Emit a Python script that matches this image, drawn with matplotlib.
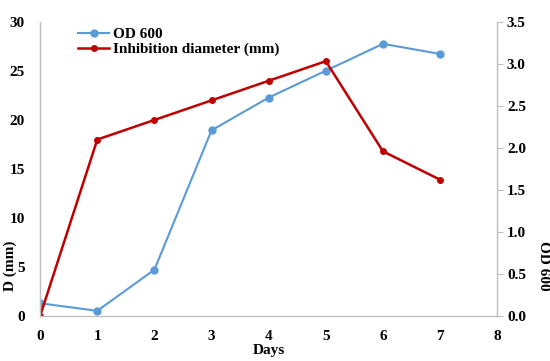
import matplotlib
matplotlib.use('Agg')
import matplotlib.pyplot as plt

plt.rcParams['font.family'] = 'Liberation Serif'
plt.rcParams['font.weight'] = 'bold'

days = [0, 1, 2, 3, 4, 5, 6, 7]
diameter = [0, 18.0, 20.0, 22.0, 24.0, 26.0, 16.8, 13.9]
od600 = [0.15, 0.06, 0.55, 2.21, 2.6, 2.92, 3.24, 3.12]

blue = '#5b9bd5'
red = '#c00000'
grey = '#bfbfbf'

fig = plt.figure(figsize=(5.5, 3.61), dpi=100)
ax = fig.add_axes([0.073, 0.125, 0.831, 0.814])
ax2 = ax.twinx()

l2, = ax2.plot(days, od600, color=blue, marker='o', ms=5, lw=1.5, label='OD 600')
l1, = ax.plot(days, diameter, color=red, marker='o', ms=4, lw=1.8, label='Inhibition diameter (mm)')
ax.set_zorder(ax2.get_zorder() + 1)
ax.patch.set_visible(False)

ax.set_xlim(0, 8)
ax.set_ylim(0, 30)
ax2.set_ylim(0, 3.5)
ax.set_xticks(range(9))
ax.set_yticks(range(0, 31, 5))
ax2.set_yticks([0, 0.5, 1.0, 1.5, 2.0, 2.5, 3.0, 3.5])
ax2.set_yticklabels(['0.0', '0.5', '1.0', '1.5', '2.0', '2.5', '3.0', '3.5'])

for a in (ax, ax2):
    for s in a.spines.values():
        s.set_visible(False)
ax.spines['left'].set_visible(True)
ax.spines['bottom'].set_visible(True)
ax2.spines['right'].set_visible(True)
for s in (ax.spines['left'], ax.spines['bottom'], ax2.spines['right']):
    s.set_color(grey)
    s.set_linewidth(1.0)

ax.tick_params(axis='x', length=0, labelsize=11, pad=10)
ax.tick_params(axis='y', length=0, labelsize=11, pad=11)
ax2.tick_params(axis='y', length=4, color=grey, labelsize=11, pad=3)
for lab in ax.get_xticklabels() + ax.get_yticklabels() + ax2.get_yticklabels():
    lab.set_fontweight('bold')

ax.set_xlabel('Days', fontsize=11, fontweight='bold', labelpad=1)
ax.set_ylabel('D (mm)', fontsize=11, fontweight='bold')
ax.yaxis.set_label_coords(-0.05, 0.17)
ax2.set_ylabel('OD 600', fontsize=11, fontweight='bold', rotation=270, labelpad=14)
ax2.yaxis.set_label_coords(1.115, 0.17)

leg = ax.legend(handles=[l2, l1], loc='upper left', bbox_to_anchor=(0.07, 1.003),
                frameon=False, fontsize=11, handlelength=2.0, handletextpad=0.3,
                labelspacing=0.1, borderaxespad=0)
for t in leg.get_texts():
    t.set_fontweight('bold')

fig.savefig('out.png', dpi=100)
